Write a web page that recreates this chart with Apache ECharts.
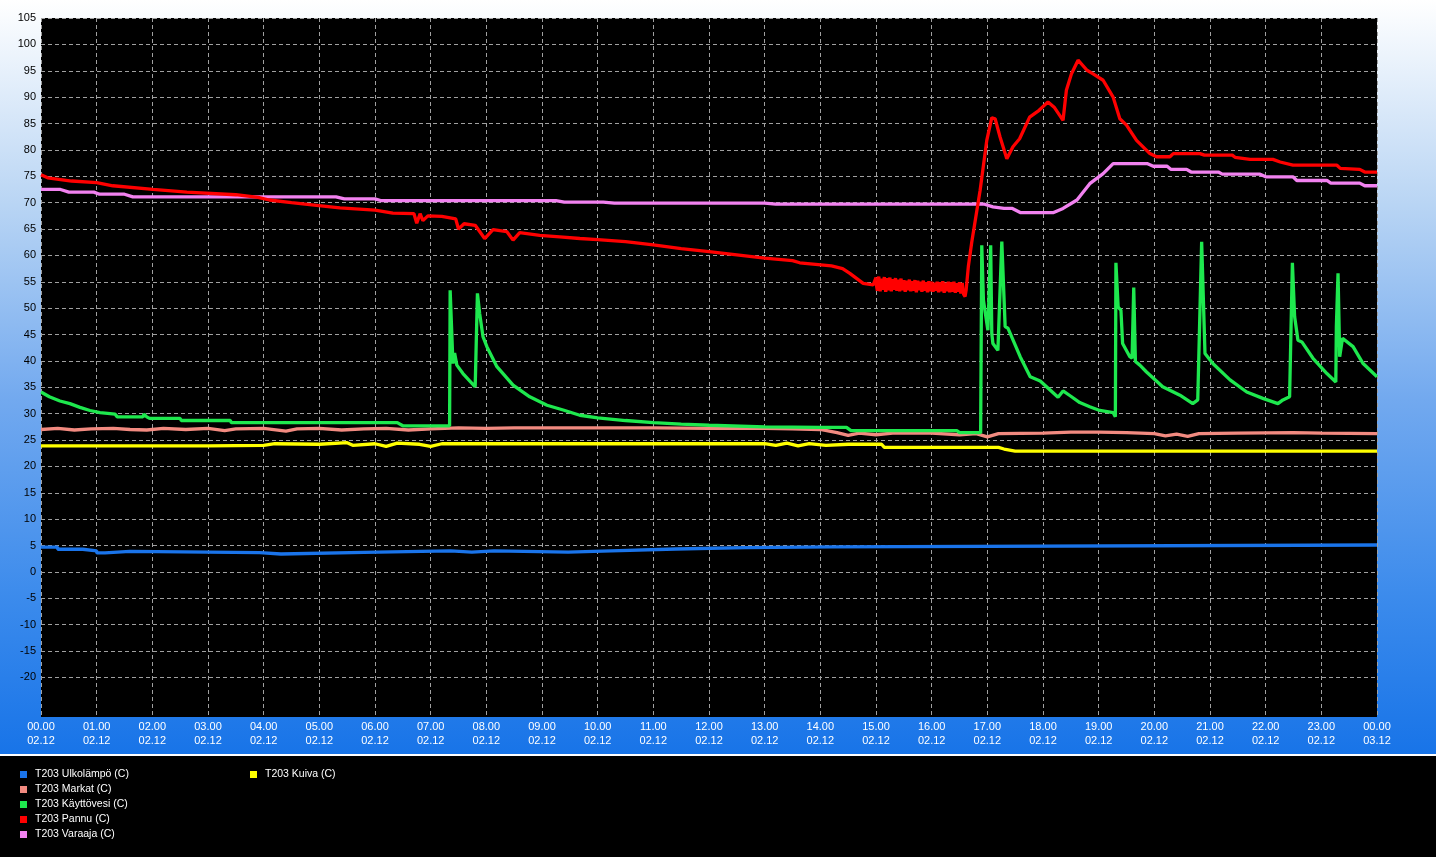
<!DOCTYPE html>
<html><head><meta charset="utf-8">
<script src="https://cdn.jsdelivr.net/npm/echarts@6/dist/echarts.min.js"></script>
<style>html,body{margin:0;padding:0;background:#000}#c{width:1436px;height:857px}</style>
</head><body><div id="c"></div>
<script>
// ---- tick labels ----
const xTickHours = [0,1,2,3,4,5,6,7,8,9,10,11,12,13,14,15,16,17,18,19,20,21,22,23,24];
const dateLabels = ['02.12', '03.12'];
const yTickValues = [-20,-15,-10,-5,0,5,10,15,20,25,30,35,40,45,50,55,60,65,70,75,80,85,90,95,100,105];

// ---- series names ----
const seriesNames = ['T203 Ulkolämpö (C)','T203 Markat (C)','T203 Käyttövesi (C)','T203 Pannu (C)','T203 Varaaja (C)','T203 Kuiva (C)'];

// ---- data: [hour of day, °C] ----
const ulkolampo = [[0,4.7],[0.3,4.3],[0.75,4.0],[1.0,3.6],[1.15,3.9],[1.6,3.65],[3.93,3.4],[4.31,3.7],[5.8,4.0],[7.36,3.75],[7.74,4.0],[8.14,3.75],[9.47,4.0],[10.24,4.35],[11.4,4.6],[12.65,4.75],[14.2,5.1],[24,5.1]];

const markat = [[0,27.0],[0.3,27.2],[0.6,26.9],[0.9,27.1],[1.3,27.2],[1.6,27.0],[1.9,26.9],[2.2,27.2],[2.6,27.0],[3.0,27.2],[3.3,26.8],[3.5,27.1],[4.0,27.2],[4.4,26.7],[4.6,27.1],[5.0,27.2],[5.4,26.9],[5.8,27.1],[6.2,27.2],[6.6,26.9],[7.0,27.1],[7.5,27.3],[8.0,27.2],[8.5,27.3],[9.0,27.3],[10.0,27.3],[11.0,27.3],[12.0,27.2],[13.0,27.2],[13.5,27.1],[14.0,27.0],[14.3,26.4],[14.5,25.9],[14.7,26.3],[15.0,26.0],[15.3,26.3],[16.0,26.3],[16.5,26.0],[16.8,26.2],[17.0,25.6],[17.2,26.2],[18.0,26.3],[18.5,26.5],[19.0,26.5],[19.5,26.4],[20.0,26.2],[20.2,25.8],[20.4,26.1],[20.6,25.7],[20.8,26.2],[21.5,26.3],[22.5,26.4],[23.0,26.3],[24,26.2]];

const kayttovesi = [[0,34.1],[0.15,33.2],[0.34,32.4],[0.52,31.9],[0.7,31.2],[0.88,30.6],[1.06,30.2],[1.33,29.9],[1.37,29.4],[1.83,29.4],[1.85,29.9],[1.9,29.4],[1.95,29.1],[2.5,29.1],[2.52,28.7],[3.4,28.7],[3.42,28.3],[6.4,28.3],[6.5,27.7],[7.34,27.7],[7.35,53.4],[7.4,39.5],[7.43,41.5],[7.47,39.2],[7.58,37.6],[7.8,35.1],[7.84,52.8],[7.88,49.0],[7.94,44.6],[8.01,42.7],[8.19,38.9],[8.48,35.4],[8.78,33.2],[9.09,31.6],[9.38,30.7],[9.68,29.7],[10.0,29.2],[10.5,28.7],[11.0,28.3],[11.5,28.0],[12.0,27.8],[13.0,27.5],[14.0,27.4],[14.47,27.4],[14.55,26.8],[16.45,26.8],[16.5,26.4],[16.88,26.4],[16.9,61.9],[16.93,51.5],[17.01,45.8],[17.06,61.9],[17.08,45.2],[17.1,43.3],[17.19,42.0],[17.26,62.6],[17.32,46.5],[17.37,46.2],[17.59,40.8],[17.77,37.0],[17.95,36.2],[18.27,33.1],[18.36,34.3],[18.5,33.3],[18.66,32.1],[18.84,31.3],[19.02,30.6],[19.26,30.2],[19.3,29.4],[19.31,58.6],[19.35,50.2],[19.4,49.6],[19.43,43.3],[19.56,40.8],[19.6,40.5],[19.63,53.9],[19.66,39.9],[19.74,39.2],[19.86,37.9],[20.15,35.1],[20.46,33.5],[20.69,31.9],[20.78,32.6],[20.85,62.6],[20.91,41.4],[21.05,39.5],[21.36,36.4],[21.66,34.1],[21.95,32.9],[22.22,31.9],[22.31,32.6],[22.43,33.2],[22.48,58.6],[22.52,48.4],[22.58,43.9],[22.65,43.6],[22.85,40.5],[23.1,37.6],[23.26,36.0],[23.27,46.5],[23.3,56.6],[23.33,40.8],[23.38,44.3],[23.57,42.7],[23.75,39.5],[24.0,37.0]];

const pannu = [[0,75.3],[0.12,74.7],[0.55,74.1],[1.0,73.8],[1.29,73.2],[2.01,72.5],[2.62,72.0],[3.5,71.5],[3.9,71.0],[4.1,70.5],[4.5,70.0],[4.95,69.5],[5.37,69.0],[6.0,68.6],[6.32,68.0],[6.7,67.9],[6.75,66.1],[6.81,67.9],[6.86,66.6],[6.95,67.5],[7.2,67.4],[7.45,66.9],[7.5,65.0],[7.6,66.0],[7.8,65.7],[7.97,63.2],[8.12,64.9],[8.37,64.5],[8.48,62.9],[8.6,64.3],[8.96,63.8],[9.32,63.5],[9.68,63.2],[10.0,63.0],[10.5,62.6],[11.0,62.0],[11.5,61.3],[12.0,60.7],[12.5,60.1],[13.0,59.5],[13.5,59.0],[13.63,58.6],[14.2,58.0],[14.4,57.5],[14.53,56.6],[14.77,54.7],[14.95,54.4],
[15.000,55.8],[15.0125,54.0],[15.025,53.3],[15.0375,55.0],[15.050,56.0],[15.0625,54.2],[15.075,53.2],[15.0875,54.8],[15.100,55.6],[15.1125,54.0],[15.125,53.5],[15.1375,55.2],[15.150,55.9],[15.1625,54.1],[15.175,53.1],[15.1875,54.9],[15.200,55.7],[15.2125,54.3],[15.225,53.4],[15.2375,55.0],[15.250,55.8],[15.2625,54.0],[15.275,53.2],[15.2875,54.7],[15.300,55.5],[15.3125,54.2],[15.325,53.5],[15.3375,55.1],[15.350,55.7],[15.3625,54.1],[15.375,53.3],[15.3875,54.8],[15.400,55.4],[15.4125,54.0],[15.425,53.2],[15.4375,54.9],[15.450,55.6],[15.4625,54.2],[15.475,53.4],[15.4875,54.7],[15.500,55.3],[15.5125,53.9],[15.525,53.1],[15.5375,54.6],[15.550,55.2],[15.5625,54.1],[15.575,53.4],[15.5875,54.8],[15.600,55.4],[15.6125,54.0],[15.625,53.2],[15.6375,54.5],[15.650,55.1],[15.6625,54.0],[15.675,53.3],[15.6875,54.7],[15.700,55.3],[15.7125,53.8],[15.725,53.0],[15.7375,54.6],[15.750,55.2],[15.7625,54.1],[15.775,53.4],[15.7875,54.4],[15.800,55.0],[15.8125,53.9],[15.825,53.1],[15.8375,54.6],[15.850,55.2],[15.8625,54.0],[15.875,53.3],[15.8875,54.3],[15.900,54.9],[15.9125,53.8],[15.925,53.0],[15.9375,54.5],[15.950,55.1],[15.9625,53.9],[15.975,53.2],[15.9875,54.4],[16.000,55.0],[16.0125,53.9],[16.025,53.1],[16.0375,54.2],[16.050,54.8],[16.0625,54.0],[16.075,53.3],[16.0875,54.4],[16.100,55.0],[16.1125,53.8],[16.125,53.0],[16.1375,54.3],[16.150,54.9],[16.1625,53.9],[16.175,53.2],[16.1875,54.5],[16.200,55.1],[16.2125,53.7],[16.225,52.9],[16.2375,54.2],[16.250,54.8],[16.2625,53.9],[16.275,53.2],[16.2875,54.4],[16.300,55.0],[16.3125,53.8],[16.325,53.0],[16.3375,54.3],[16.350,54.9],[16.3625,53.8],[16.375,53.1],[16.3875,54.4],[16.400,55.0],[16.4125,53.7],[16.425,52.9],[16.4375,54.1],[16.450,54.7],[16.4625,53.8],[16.475,53.1],[16.4875,54.3],[16.500,54.9],[16.5125,53.6],[16.525,52.8],[16.5375,54.1],[16.550,54.8],[16.5625,53.5],[16.575,52.6],[16.600,52.2],
[16.62,53.5],[16.66,58.0],[16.72,62.5],[16.87,72.3],[16.99,81.8],[17.08,86.1],[17.14,85.9],[17.23,82.4],[17.35,78.3],[17.46,80.6],[17.58,82.1],[17.76,86.2],[17.93,87.5],[18.09,89.1],[18.2,88.1],[18.36,85.6],[18.42,91.3],[18.51,94.4],[18.63,97.0],[18.79,95.1],[18.9,94.4],[19.08,93.2],[19.26,90.0],[19.38,85.9],[19.5,84.7],[19.68,81.8],[19.92,79.3],[20.04,78.7],[20.28,78.7],[20.34,79.3],[20.82,79.3],[20.9,79.0],[21.4,79.0],[21.45,78.6],[21.72,78.2],[22.13,78.2],[22.26,77.7],[22.49,77.1],[23.28,77.1],[23.34,76.5],[23.69,76.3],[23.78,75.8],[24,75.8]];

const varaaja = [[0,72.5],[0.35,72.5],[0.5,72.0],[0.95,72.0],[1.05,71.6],[1.5,71.6],[1.65,71.1],[5.3,71.1],[5.45,70.7],[6.0,70.7],[6.1,70.4],[9.25,70.4],[9.4,70.1],[10.1,70.1],[10.3,69.9],[13.0,69.9],[13.2,69.7],[16.95,69.7],[17.1,69.2],[17.3,68.9],[17.45,68.9],[17.6,68.1],[18.18,68.1],[18.36,68.9],[18.61,70.5],[18.84,73.6],[19.08,75.5],[19.26,77.4],[19.87,77.4],[19.98,76.9],[20.23,76.9],[20.3,76.3],[20.58,76.3],[20.66,75.8],[21.15,75.8],[21.22,75.4],[21.9,75.4],[22.0,74.9],[22.49,74.9],[22.56,74.2],[23.1,74.2],[23.17,73.7],[23.69,73.7],[23.78,73.2],[24,73.2]];

const kuiva = [[0,23.9],[2,23.9],[3,23.9],[4,24.0],[4.2,24.3],[5.0,24.2],[5.5,24.5],[5.6,24.0],[6.0,24.3],[6.2,23.8],[6.4,24.4],[6.8,24.2],[7.0,23.8],[7.2,24.3],[7.5,24.3],[8,24.3],[9,24.3],[10,24.3],[11,24.3],[12,24.3],[13,24.3],[13.2,24.0],[13.4,24.4],[13.6,23.9],[13.8,24.3],[14.1,24.0],[14.5,24.2],[15.1,24.2],[15.15,23.6],[17.2,23.6],[17.3,23.3],[17.5,22.9],[24,22.9]];

const colors = {
  ulko: '#1a74ea', markat: '#f28a80', kaytto: '#1ee84e', pannu: '#ff0000', varaaja: '#f282f0', kuiva: '#ffff00'
};

const chart = echarts.init(document.getElementById('c'), null, {renderer: 'canvas'});

function line(name, data, color, extra) {
  return Object.assign({
    name: name, type: 'line', data: data, showSymbol: false, symbol: 'none',
    lineStyle: {color: color, width: 3.3}, itemStyle: {color: color},
    animation: false, silent: true
  }, extra || {});
}

const axisFont = 'Liberation Sans';

chart.setOption({
  animation: false,
  graphic: [
    {type: 'rect', z: -10, silent: true, shape: {x: 0, y: 0, width: 1436, height: 754},
     style: {fill: new echarts.graphic.LinearGradient(0, 0, 0, 1, [
       {offset: 0, color: '#ffffff'}, {offset: 0.27, color: '#b9d5f4'},
       {offset: 0.53, color: '#72a9ef'}, {offset: 0.8, color: '#3a8aec'}, {offset: 1, color: '#1874e8'}])}},
    {type: 'rect', z: -10, silent: true, shape: {x: 0, y: 754, width: 1436, height: 2}, style: {fill: '#ffffff'}},
    {type: 'rect', z: -10, silent: true, shape: {x: 0, y: 756, width: 1436, height: 101}, style: {fill: '#000000'}}
  ],
  grid: {left: 41, top: 18, right: 59, bottom: 140, show: true, backgroundColor: '#000', borderWidth: 0, outerBoundsMode: 'none', containLabel: false},
  legend: [
    {data: seriesNames.slice(0, 5), orient: 'vertical', left: 20, top: 767, padding: 0, itemGap: 0,
     itemWidth: 7, itemHeight: 7, icon: 'rect', selectedMode: false,
     textStyle: {color: '#fff', fontFamily: axisFont, fontSize: 10.5, lineHeight: 15, padding: [0, 0, 0, 3]}},
    {data: seriesNames.slice(5), orient: 'vertical', left: 250, top: 767, padding: 0, itemGap: 0,
     itemWidth: 7, itemHeight: 7, icon: 'rect', selectedMode: false,
     textStyle: {color: '#fff', fontFamily: axisFont, fontSize: 10.5, lineHeight: 15, padding: [0, 0, 0, 3]}}
  ],
  xAxis: {
    type: 'value', min: xTickHours[0], max: xTickHours[xTickHours.length - 1], interval: 1,
    axisLine: {show: false}, axisTick: {show: false},
    splitLine: {show: true, lineStyle: {color: '#a0a0a0', width: 1, type: [4, 3]}},
    axisLabel: {color: '#ffffff', fontFamily: axisFont, fontSize: 11, lineHeight: 14, margin: 3,
      showMinLabel: true, showMaxLabel: true, hideOverlap: false,
      formatter: function (v) {
        const h = Math.round(v) % 24;
        const hh = (h < 10 ? '0' : '') + h + '.00';
        return hh + '\n' + (v >= 24 ? dateLabels[1] : dateLabels[0]);
      }}
  },
  yAxis: {
    type: 'value', min: -27.5, max: 105,
    axisLine: {show: false},
    axisTick: {show: false, customValues: yTickValues},
    splitLine: {show: true, lineStyle: {color: '#a0a0a0', width: 1, type: [4, 3]}},
    axisLabel: {color: '#000000', fontFamily: axisFont, fontSize: 11, margin: 5, customValues: yTickValues, hideOverlap: false}
  },
  series: [
    line(seriesNames[0], ulkolampo, colors.ulko, {step: 'end'}),
    line(seriesNames[5], kuiva, colors.kuiva),
    line(seriesNames[1], markat, colors.markat),
    line(seriesNames[4], varaaja, colors.varaaja),
    line(seriesNames[2], kayttovesi, colors.kaytto),
    line(seriesNames[3], pannu, colors.pannu)
  ]
});
</script></body></html>
